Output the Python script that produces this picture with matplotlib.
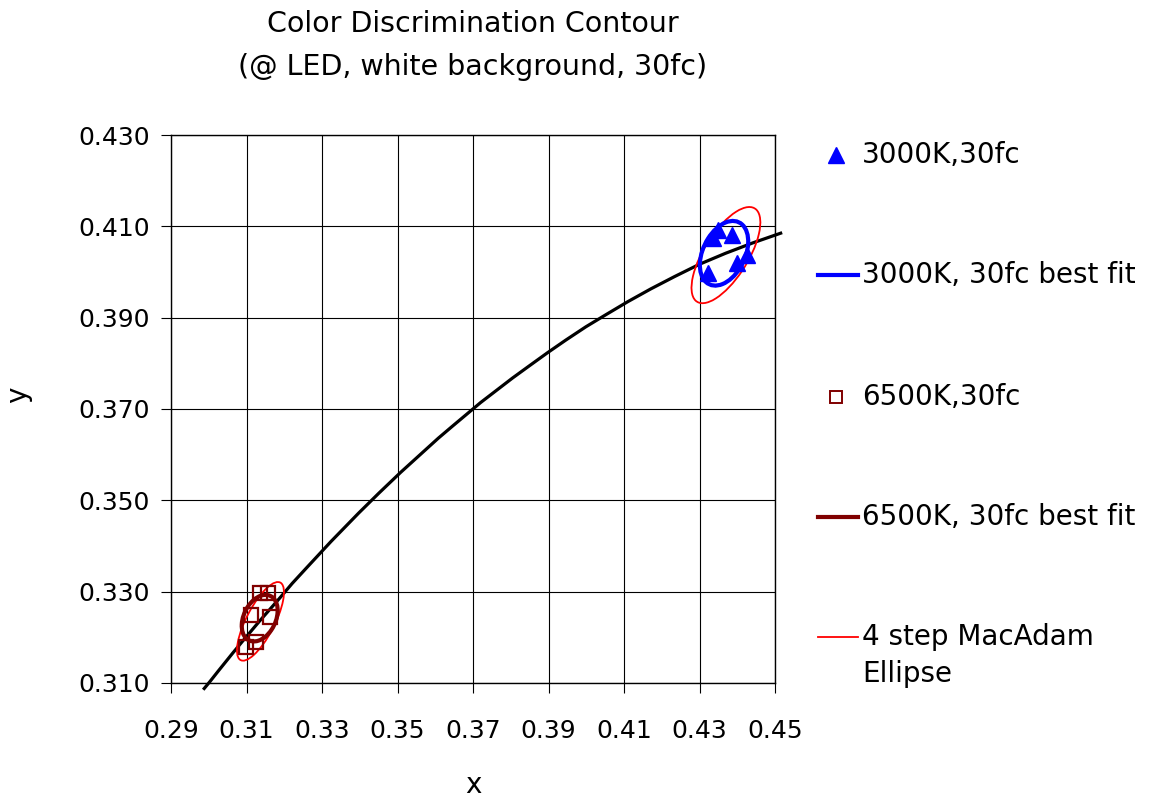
import matplotlib
matplotlib.use("Agg")
import matplotlib.pyplot as plt
from matplotlib.patches import Ellipse
from matplotlib.lines import Line2D

plt.rcParams['font.family'] = ['DejaVu Sans']

# Planckian locus (CIE 1931 x, y), from ~7600K down to ~2790K
locus_x = [0.2988, 0.3003, 0.3026, 0.3064, 0.3091, 0.3135, 0.3186, 0.3221,
           0.3260, 0.3324, 0.3397, 0.3451, 0.3508, 0.3608, 0.3645,
           0.3720, 0.3805, 0.3850, 0.3897, 0.3946, 0.3999, 0.4053, 0.4110,
           0.4171, 0.4234, 0.4300, 0.4369, 0.4442, 0.4515]
locus_y = [0.3088, 0.3103, 0.3127, 0.3166, 0.3193, 0.3236, 0.3284, 0.3318,
           0.3353, 0.3410, 0.3472, 0.3516, 0.3561, 0.3636, 0.3662,
           0.3714, 0.3768, 0.3795, 0.3823, 0.3851, 0.3880, 0.3907, 0.3935,
           0.3963, 0.3990, 0.4017, 0.4041, 0.4064, 0.4085]

# Measured chromaticities
k3000_x = [0.4349, 0.4336, 0.4385, 0.4425, 0.4399, 0.4323]
k3000_y = [0.4092, 0.4074, 0.4081, 0.4037, 0.4019, 0.3997]
k6500_x = [0.3135, 0.3157, 0.3113, 0.3161, 0.3126, 0.3099]
k6500_y = [0.3296, 0.3296, 0.3249, 0.3245, 0.3190, 0.3178]

# Ellipses: centre x, centre y, semi-major a, semi-minor b, angle (deg)
fit3000 = (0.4365, 0.4041, 0.00792, 0.00533, 52.7)
fit6500 = (0.3135, 0.3242, 0.00570, 0.00403, 51.0)
macadam3000 = (0.4370, 0.4037, 0.01280, 0.00550, 51.0)
macadam6500 = (0.3137, 0.3235, 0.01000, 0.00360, 57.0)

x_ticks = [0.29, 0.31, 0.33, 0.35, 0.37, 0.39, 0.41, 0.43, 0.45]
y_ticks = [0.310, 0.330, 0.350, 0.370, 0.390, 0.410, 0.430]

BLUE = '#0000FF'
DARKRED = '#800000'
RED = '#FF0000'

W, H = 1151, 799
fig = plt.figure(figsize=(W / 100, H / 100), dpi=100)
ax = fig.add_axes([171 / W, 1 - 683 / H, (775 - 171) / W, (683 - 135) / H])

ax.set_xlim(0.29, 0.45)
ax.set_ylim(0.310, 0.430)
ax.set_xticks(x_ticks)
ax.set_xticklabels([f"{v:.2f}" for v in x_ticks])
ax.set_yticks(y_ticks)
ax.set_yticklabels([f"{v:.3f}" for v in y_ticks])
ax.grid(True, color='black', linewidth=0.8)
ax.set_axisbelow(True)
for s in ax.spines.values():
    s.set_color('black')
    s.set_linewidth(1.0)
ax.tick_params(axis='x', direction='out', length=7, width=0.8, pad=19, labelsize=18)
ax.tick_params(axis='y', direction='out', length=7, width=0.8, pad=8, labelsize=18)

ax.plot(locus_x, locus_y, color='black', linewidth=2.3, clip_on=False, zorder=3,
        solid_joinstyle='round')


def draw_ellipse(params, color, lw):
    cx, cy, a, b, ang = params
    ax.add_patch(Ellipse((cx, cy), 2 * a, 2 * b, angle=ang, fill=False,
                         edgecolor=color, linewidth=lw, zorder=4))


draw_ellipse(macadam3000, RED, 1.3)
draw_ellipse(macadam6500, RED, 1.3)
draw_ellipse(fit3000, BLUE, 3.0)
draw_ellipse(fit6500, DARKRED, 3.0)

ax.plot(k3000_x, k3000_y, linestyle='none', marker='^', markersize=11,
        color=BLUE, zorder=5)
ax.plot(k6500_x, k6500_y, linestyle='none', marker='s', markersize=10,
        markerfacecolor='none', markeredgecolor=DARKRED, markeredgewidth=1.6, zorder=5)

ax.set_xlabel('x', fontsize=20)
ax.set_ylabel('y', fontsize=20)
ax.xaxis.set_label_coords(0.5, -(785 - 683) / 548)
ax.yaxis.set_label_coords((18 - 171) / 604, (683 - 395) / 548)
ax.xaxis.label.set_va('center')
ax.yaxis.label.set_va('center')

fig.text(473 / W, 1 - 24 / H, 'Color Discrimination Contour',
         ha='center', va='center', fontsize=20.5)
fig.text(473 / W, 1 - 67 / H, '(@ LED, white background, 30fc)',
         ha='center', va='center', fontsize=20.5)

# Legend, drawn in figure coordinates
entries = [
    ('marker', dict(marker='^', color=BLUE, markersize=11), '3000K,30fc', 155),
    ('line', dict(color=BLUE, linewidth=3.0), '3000K, 30fc best fit', 275),
    ('marker', dict(marker='s', markerfacecolor='none', markeredgecolor=DARKRED,
                    markeredgewidth=1.4, markersize=9), '6500K,30fc', 397),
    ('line', dict(color=DARKRED, linewidth=3.0), '6500K, 30fc best fit', 517),
    ('line', dict(color=RED, linewidth=1.3), '4 step MacAdam\nEllipse', 637),
]
for kind, style, label, ypx in entries:
    yf = 1 - ypx / H
    if kind == 'line':
        fig.add_artist(Line2D([818 / W, 858 / W], [yf, yf],
                              transform=fig.transFigure, **style))
    else:
        fig.add_artist(Line2D([836 / W], [yf], transform=fig.transFigure,
                              linestyle='none', **style))
    if '\n' in label:
        fig.text(862 / W, 1 - (ypx - 14) / H, label, ha='left', va='top',
                 fontsize=20, linespacing=1.4)
    else:
        fig.text(862 / W, yf, label, ha='left', va='center', fontsize=20)

fig.savefig('out.png', dpi=100)
